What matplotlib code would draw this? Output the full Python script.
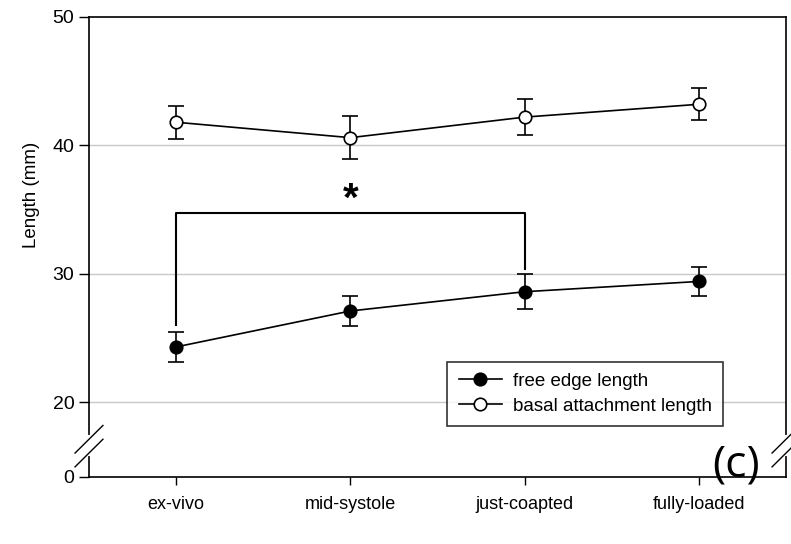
import numpy as np
import matplotlib
matplotlib.use("Agg")
import matplotlib.pyplot as plt
from matplotlib.lines import Line2D

plt.rcParams["font.family"] = ["Liberation Sans", "DejaVu Sans"]

# --- data (mm) ---
stages = ["ex-vivo", "mid-systole", "just-coapted", "fully-loaded"]
free_edge = [24.3, 27.1, 28.6, 29.4]
free_edge_err = [1.17, 1.15, 1.35, 1.15]
basal = [41.8, 40.6, 42.2, 43.2]
basal_err = [1.3, 1.68, 1.43, 1.25]
yticks = [0, 20, 30, 40, 50]

# broken y axis: 0..20 squeezed into a short stretch below 20
BRK, LOW = 20.0, 14.17


def fwd(y):
    y = np.asarray(y, float)
    return np.where(y >= BRK, y, LOW + y * (BRK - LOW) / BRK)


def inv(u):
    u = np.asarray(u, float)
    return np.where(u >= BRK, u, (u - LOW) * BRK / (BRK - LOW))


fig = plt.figure(figsize=(7.91, 5.44), dpi=100)
ax = fig.add_axes([0.1125, 0.1232, 0.8812, 0.8456])
ax.set_yscale("function", functions=(fwd, inv))
x = np.arange(1, len(stages) + 1)

for yv in [20, 30, 40]:
    ax.axhline(yv, color="#c8c8c8", lw=1.0, zorder=0)

kw = dict(color="black", lw=1.2, capsize=6, capthick=1.2, elinewidth=1.2, markersize=9,
          markeredgewidth=1.2, zorder=3)
ax.errorbar(x, free_edge, yerr=free_edge_err, fmt="-o", markerfacecolor="black", **kw)
ax.errorbar(x, basal, yerr=basal_err, fmt="-o", markerfacecolor="white", **kw)

# significance bracket ex-vivo vs just-coapted
top = 34.7
ax.plot([x[0], x[0], x[2], x[2]], [26.0, top, top, 30.4], color="black", lw=1.5, zorder=2)
ax.text((x[0] + x[2]) / 2, top - 0.45, "*", ha="center", va="bottom", fontsize=29,
        fontweight="bold")

ax.set_xlim(0.5, 4.5)
ax.set_ylim(0, 50)
ax.set_yticks(yticks)
ax.set_xticks(x)
ax.set_xticklabels(stages, fontsize=13)
ax.tick_params(axis="y", labelsize=14, direction="out", length=7, width=1)
ax.tick_params(axis="x", direction="out", length=6, width=1, pad=8)
ax.set_ylabel("Length (mm)", fontsize=13.5)
ax.yaxis.set_label_coords(-0.07, 0.613)
for s in ax.spines.values():
    s.set_linewidth(1.2)

# axis break marks on both sides
for xa in (0.0, 1.0):
    ax.plot([xa, xa], [0.05, 0.087], transform=ax.transAxes, color="white", lw=3,
            clip_on=False, zorder=5)
    for dy in (0.0, 0.03):
        ax.plot([xa - 0.02, xa + 0.02], [0.022 + dy, 0.082 + dy], transform=ax.transAxes,
                color="black", lw=1, clip_on=False, zorder=6)

handles = [Line2D([], [], color="black", lw=1.2, marker="o", markersize=9,
                  markerfacecolor=fc, markeredgewidth=1.2) for fc in ("black", "white")]
leg = ax.legend(handles, ["free edge length", "basal attachment length"],
                loc="lower left", bbox_to_anchor=(0.514, 0.111), borderaxespad=0,
                fontsize=13.5, frameon=True, fancybox=False, edgecolor="black",
                borderpad=0.6, handlelength=2.3, handletextpad=0.6, labelspacing=0.4)
leg.get_frame().set_linewidth(1.2)

ax.text(0.928, 0.026, "(c)", transform=ax.transAxes, fontsize=32, ha="center",
        va="center", family=["Open Sans", "DejaVu Sans"])

fig.savefig("out.png", dpi=100)
